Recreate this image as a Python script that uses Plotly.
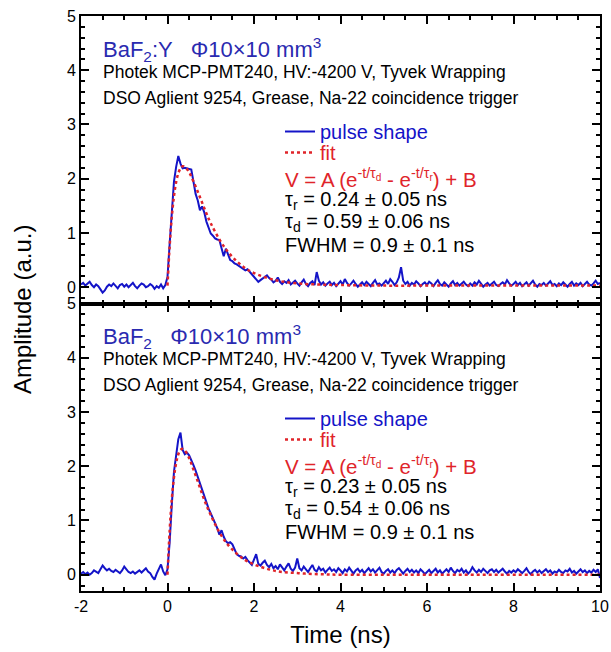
import numpy as np
import plotly.graph_objects as go
from plotly.subplots import make_subplots

# ---------------- data ----------------
time_ns = np.round(np.arange(-2, 10.0001, 0.05), 2)

# BaF2:Y measured pulse shape (top panel), 0.05 ns sampling, -2 ... 10 ns
bafy_pulse = [
    0.05, 0.08, 0.03, 0.06, 0.10, 0.04, 0.00, 0.05, 0.02, -0.04, -0.10, -0.06, 0.01, 0.05, 0.02, 0.07, 0.03, -0.02, 0.04, 0.06,
    0.01, 0.05, 0.00, 0.04, 0.08, 0.02, -0.02, 0.03, 0.07, 0.05, 0.00, 0.02, 0.06, 0.03, -0.03, 0.02, -0.01, 0.05, -0.02, 0.04,
    0.19, 0.80, 1.45, 1.95, 2.22, 2.42, 2.28, 2.19, 2.20, 2.19, 2.18, 2.17, 1.95, 1.72, 1.60, 1.42, 1.49, 1.38, 1.21, 1.10,
    0.99, 0.95, 0.90, 0.88, 0.87, 0.72, 0.57, 0.71, 0.62, 0.50, 0.48, 0.44, 0.42, 0.39, 0.36, 0.34, 0.31, 0.33, 0.28, 0.25,
    0.20, 0.15, 0.10, 0.13, 0.16, 0.20, 0.22, 0.17, 0.14, 0.09, 0.12, 0.18, 0.10, 0.06, 0.11, 0.08, 0.13, 0.05, 0.09, 0.12,
    0.07, 0.03, 0.09, 0.14, 0.06, 0.02, 0.08, 0.11, 0.04, 0.28, 0.12, 0.05, 0.09, 0.03, 0.07, 0.10, 0.04, 0.08, 0.02, 0.06,
    0.11, 0.05, 0.15, 0.08, 0.03, 0.07, 0.12, 0.06, 0.01, 0.05, 0.09, 0.04, 0.10, 0.06, 0.02, 0.08, 0.13, 0.05, 0.07, 0.03,
    0.08, 0.12, 0.06, 0.15, 0.10, 0.04, 0.09, 0.18, 0.37, 0.12, 0.06, 0.10, 0.03, 0.08, 0.05, 0.11, 0.07, 0.02, 0.06, 0.09,
    0.04, 0.10, 0.07, 0.02, 0.08, 0.13, 0.06, 0.03, 0.09, 0.05, 0.01, 0.07, 0.11, 0.04, 0.08, 0.03, 0.06, 0.10, 0.05, 0.02,
    0.07, 0.03, 0.09, 0.05, 0.12, 0.06, 0.01, 0.05, 0.08, 0.03, 0.07, 0.10, 0.04, 0.02, 0.06, 0.09, 0.05, 0.13, 0.07, 0.03,
    0.06, 0.10, 0.04, 0.08, 0.02, 0.05, 0.09, 0.03, 0.07, 0.12, 0.05, 0.01, 0.06, 0.04, 0.08, 0.03, 0.07, 0.11, 0.04, 0.06,
    0.02, 0.07, 0.04, 0.09, 0.05, 0.01, 0.06, 0.10, 0.03, 0.07, 0.04, 0.08, 0.02, 0.06, 0.10, 0.05, 0.03, 0.07, 0.12, 0.06,
    0.08,
]

# BaF2 measured pulse shape (bottom panel)
baf_pulse = [
    0.02, 0.05, 0.01, 0.04, 0.00, 0.03, 0.08, 0.05, 0.03, 0.10, 0.17, 0.12, 0.08, 0.11, 0.07, 0.05, 0.09, 0.06, 0.03, 0.08,
    0.15, 0.10, 0.05, 0.03, 0.06, 0.02, 0.05, 0.08, 0.04, 0.09, 0.12, 0.06, 0.03, -0.04, -0.09, 0.02, 0.10, 0.19, 0.06, -0.01,
    0.10, 0.60, 1.30, 1.90, 2.20, 2.50, 2.62, 2.30, 2.22, 2.25, 2.20, 2.12, 2.02, 1.92, 1.80, 1.67, 1.55, 1.44, 1.33, 1.22,
    1.13, 1.05, 0.96, 0.86, 0.74, 0.82, 0.70, 0.62, 0.58, 0.60, 0.56, 0.45, 0.38, 0.35, 0.34, 0.30, 0.33, 0.27, 0.22, 0.18,
    0.28, 0.38, 0.20, 0.17, 0.22, 0.26, 0.18, 0.14, 0.20, 0.12, 0.16, 0.10, 0.19, 0.13, 0.08, 0.15, 0.21, 0.11, 0.07, 0.13,
    0.30, 0.12, 0.08, 0.15, 0.10, 0.05, 0.12, 0.18, 0.09, 0.06, 0.14, 0.08, 0.11, 0.04, 0.09, 0.13, 0.07, 0.10, 0.05, 0.12,
    0.08, 0.03, 0.10, 0.06, 0.13, 0.07, 0.02, 0.08, 0.11, 0.05, 0.09, 0.03, 0.07, 0.12, 0.06, 0.10, 0.04, 0.08, 0.13, 0.05,
    0.02, 0.07, 0.10, 0.04, 0.08, 0.03, 0.09, 0.12, 0.06, 0.02, 0.07, 0.11, 0.05, 0.09, 0.04, 0.08, 0.03, 0.10, 0.06, 0.01,
    0.05, 0.09, 0.03, 0.07, 0.11, 0.04, 0.08, 0.02, 0.06, 0.10, 0.05, 0.13, 0.07, 0.03, 0.09, 0.06, 0.11, 0.04, 0.08, 0.02,
    0.06, 0.14, 0.08, 0.04, 0.09, 0.05, 0.11, 0.07, 0.03, 0.08, 0.10, 0.05, 0.09, 0.04, 0.07, 0.11, 0.06, 0.02, 0.07, 0.04,
    0.08, 0.05, 0.10, 0.06, 0.03, 0.07, 0.12, 0.05, 0.01, 0.06, 0.09, 0.04, 0.08, 0.03, 0.07, 0.10, 0.05, 0.08, 0.02, 0.06,
    0.04, 0.09, 0.05, 0.03, 0.08, 0.06, 0.11, 0.04, 0.07, 0.02, 0.06, 0.10, 0.05, 0.08, 0.03, 0.07, 0.04, 0.09, 0.05, 0.10,
    -0.06,
]

# fitted curves
fit_time = [0, 0.05, 0.1, 0.15, 0.2, 0.25, 0.3, 0.35, 0.4, 0.5, 0.6, 0.7, 0.8, 0.9, 1.0,
            1.2, 1.4, 1.6, 1.8, 2.0, 2.5, 3.0, 3.5, 4.0, 5, 6, 7, 8, 9, 10]
bafy_fit = [0.03, 0.76, 1.30, 1.68, 1.94, 2.10, 2.19, 2.23, 2.22, 2.12, 1.95, 1.76, 1.56, 1.36, 1.18,
            0.88, 0.65, 0.48, 0.35, 0.26, 0.13, 0.07, 0.05, 0.04, 0.03, 0.03, 0.03, 0.03, 0.03, 0.03]
baf_fit = [0.00, 0.81, 1.40, 1.80, 2.06, 2.22, 2.30, 2.32, 2.29, 2.15, 1.94, 1.72, 1.49, 1.28, 1.10,
           0.78, 0.55, 0.39, 0.27, 0.19, 0.07, 0.03, 0.01, 0.00, 0.00, 0.00, 0.00, 0.00, 0.00, 0.00]

x_tick_values = [-2, 0, 2, 4, 6, 8, 10]
x_tick_labels = ["-2", "0", "2", "4", "6", "8", "10"]

panel_titles = ["BaF<sub>2</sub>:Y   Φ10×10 mm<sup>3</sup>", "BaF<sub>2</sub>   Φ10×10 mm<sup>3</sup>"]
setup_lines = ["Photek MCP-PMT240, HV:-4200 V, Tyvek Wrapping",
               "DSO Aglient 9254, Grease, Na-22 coincidence trigger"]
formula = "V = A (e<sup>-t/τ<sub>d</sub></sup> - e<sup>-t/τ<sub>r</sub></sup>) + B"
fit_params = [
    ["τ<sub>r</sub> = 0.24 ± 0.05 ns", "τ<sub>d</sub> = 0.59 ± 0.06 ns", "FWHM = 0.9 ± 0.1 ns"],
    ["τ<sub>r</sub> = 0.23 ± 0.05 ns", "τ<sub>d</sub> = 0.54 ± 0.06 ns", "FWHM = 0.9 ± 0.1 ns"],
]

# ---------------- style ----------------
FONT = "Arial, Liberation Sans, sans-serif"
BLUE = "#1414c8"
RED = "#e0242a"
W, H = 611, 652
L, R, T, B = 81, 11, 16, 61


def px2x(px):
    return (px - L) / (W - L - R)


def px2y(py):
    return 1 - (py - T) / (H - T - B)


fig = make_subplots(rows=2, cols=1, shared_xaxes=True, vertical_spacing=0)

pulses = [bafy_pulse, baf_pulse]
fits = [bafy_fit, baf_fit]
pulse_legends = ["legend", "legend3"]
fit_legends = ["legend2", "legend4"]
for i in range(2):
    fig.add_trace(go.Scatter(x=time_ns, y=pulses[i], mode="lines",
                             line=dict(color=BLUE, width=2),
                             name=f"<span style='color:{BLUE}'>pulse shape</span>",
                             legend=pulse_legends[i]), row=i + 1, col=1)
    fig.add_trace(go.Scatter(x=fit_time, y=fits[i], mode="lines",
                             line=dict(color=RED, width=2.5, dash="3px,3px", shape="spline"),
                             name=f"<span style='color:{RED}'>fit</span>",
                             legend=fit_legends[i]), row=i + 1, col=1)

axis_common = dict(showline=True, linewidth=2, linecolor="black", mirror="ticks",
                   ticks="inside", ticklen=8, tickwidth=1.5, tickcolor="black",
                   showgrid=False, zeroline=False, automargin=False,
                   tickfont=dict(family=FONT, size=16, color="black"))
minor_common = dict(ticks="inside", ticklen=4, tickwidth=1.5, tickcolor="black", showgrid=False)

fig.update_xaxes(range=[-2, 10], tickmode="array", tickvals=x_tick_values, ticktext=x_tick_labels,
                 minor=dict(tickmode="linear", tick0=-2, dtick=0.5, **minor_common), **axis_common)
fig.update_xaxes(showticklabels=False, row=1, col=1)
fig.update_xaxes(title=dict(text="Time (ns)", font=dict(family=FONT, size=24, color="black"), standoff=12),
                 row=2, col=1)
fig.update_yaxes(range=[-0.3, 5], tick0=0, dtick=1, minor=dict(dtick=0.2, **minor_common), **axis_common)

annotations = []
panel_offset = [0, 287]
for i in range(2):
    off = panel_offset[i]
    annotations.append(dict(text=panel_titles[i], x=px2x(101), y=px2y(49 + off), xanchor="left",
                            yanchor="middle", font=dict(family=FONT, size=22, color="#2a2ab0")))
    for j, line in enumerate(setup_lines):
        annotations.append(dict(text=line, x=px2x(101), y=px2y(72 + 26 * j + off), xanchor="left",
                                yanchor="middle", font=dict(family=FONT, size=17.5, color="black")))
    annotations.append(dict(text=formula, x=px2x(283), y=px2y(178 + off), xanchor="left",
                            yanchor="middle", font=dict(family=FONT, size=20.5, color=RED)))
    for j, line in enumerate(fit_params[i]):
        annotations.append(dict(text=line, x=px2x(283), y=px2y(200 + 22.5 * j + off), xanchor="left",
                                yanchor="middle", font=dict(family=FONT, size=20, color="black")))

annotations.append(dict(text="Amplitude (a.u.)", x=px2x(22), y=px2y(310), textangle=-90,
                        xanchor="center", yanchor="middle",
                        font=dict(family=FONT, size=24, color="black")))
for a in annotations:
    a.update(xref="paper", yref="paper", showarrow=False)

legend_common = dict(xanchor="left", yanchor="top", bgcolor="rgba(0,0,0,0)",
                     font=dict(family=FONT, size=20), tracegroupgap=0, itemwidth=30)
fig.update_layout(
    width=W, height=H,
    margin=dict(l=L, r=R, t=T, b=B, autoexpand=False),
    paper_bgcolor="white", plot_bgcolor="white",
    font=dict(family=FONT, color="black"),
    annotations=annotations,
    legend=dict(x=px2x(280), y=px2y(112), **legend_common),
    legend2=dict(x=px2x(280), y=px2y(133), **legend_common),
    legend3=dict(x=px2x(280), y=px2y(112 + 287), **legend_common),
    legend4=dict(x=px2x(280), y=px2y(133 + 287), **legend_common),
    showlegend=True,
)

fig.write_html("out.html", config={"displayModeBar": False},
               post_script="document.body.style.margin='0';document.body.style.padding='0';")
